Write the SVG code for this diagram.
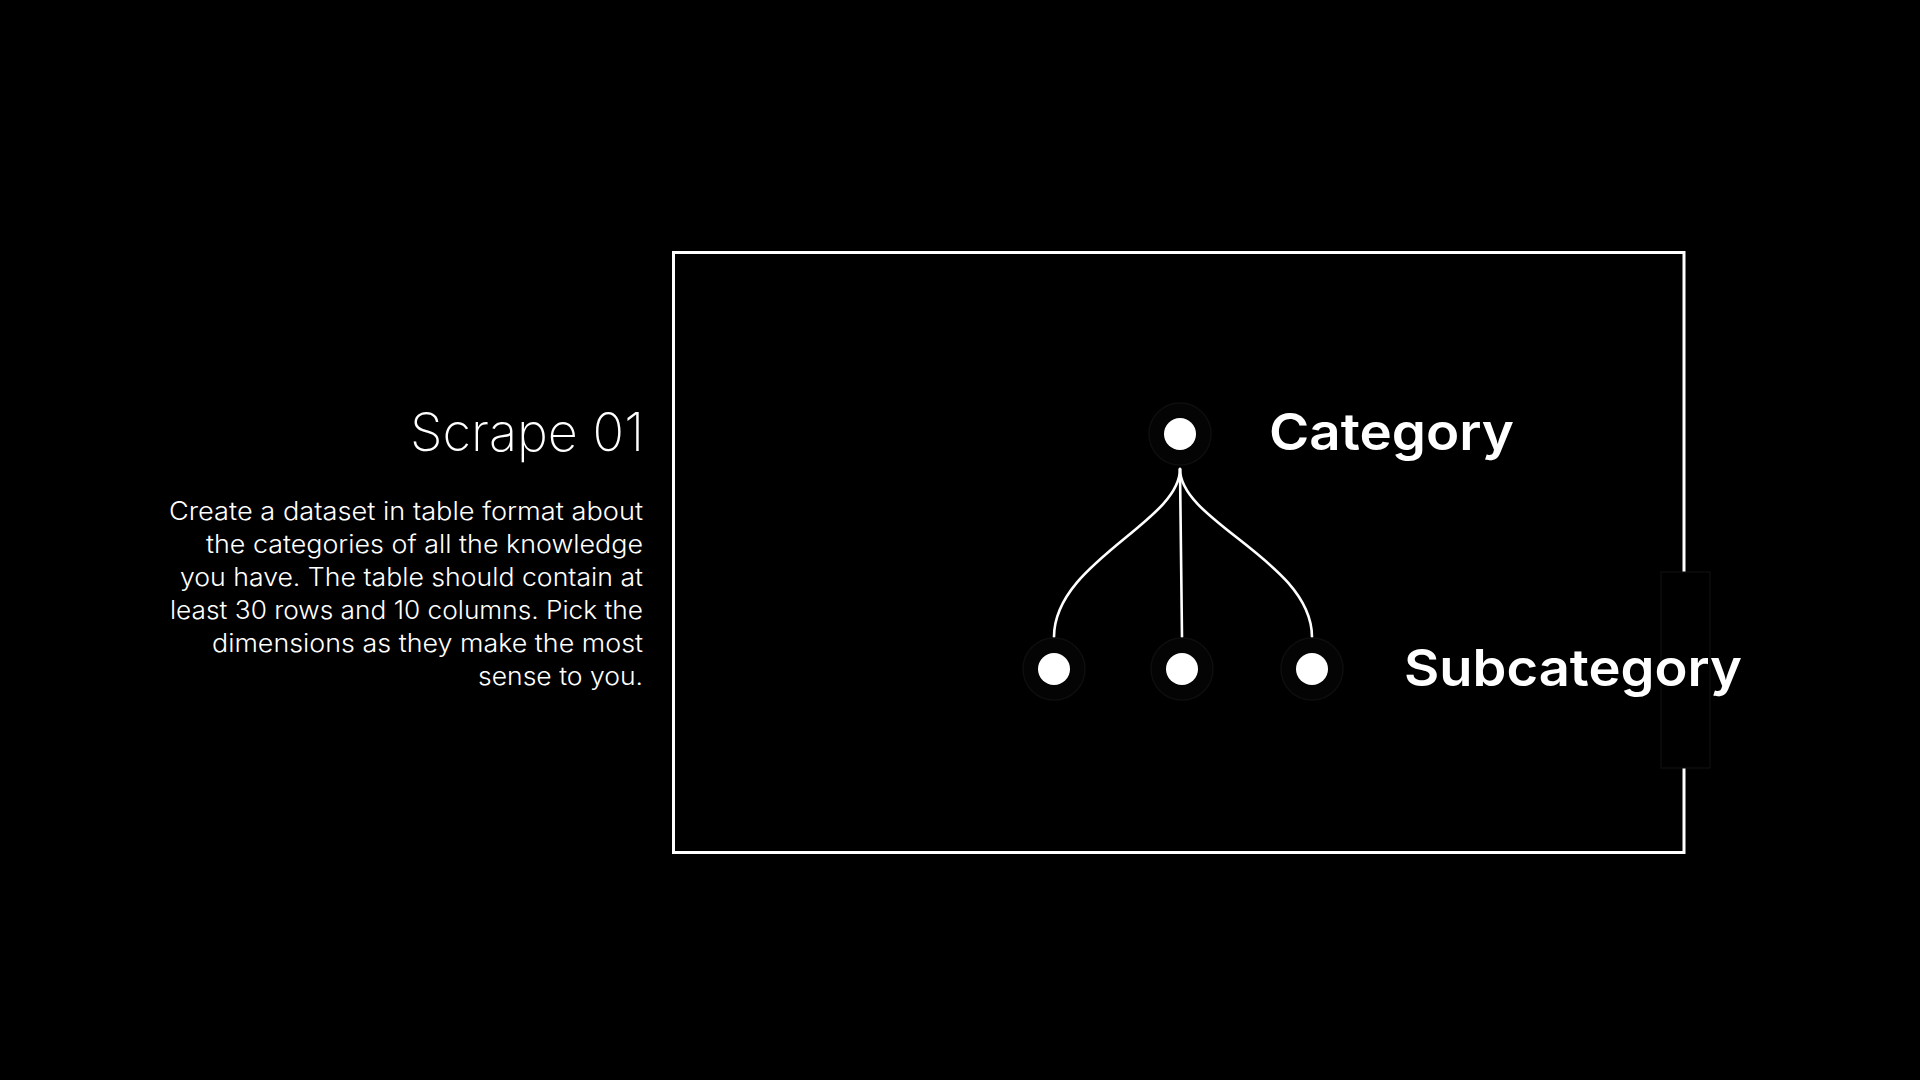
<svg xmlns="http://www.w3.org/2000/svg" width="1920" height="1080" viewBox="0 0 1920 1080">
<style>
.bg{fill:#000}
.frame{fill:none;stroke:#fff;stroke-width:3}
.ring{fill:#040404;stroke:#0e0e0e;stroke-width:1.5}
.dot{fill:#fff}
.edge{fill:none;stroke:#fff;stroke-width:2.6;stroke-linecap:round}
.label{font-family:Inter,"Noto Sans",sans-serif;font-weight:600;fill:#fff;font-size:51px}
.title{font-family:Inter,"Noto Sans",sans-serif;font-weight:200;fill:#fff;font-size:53px}
.body{font-family:Inter,"Noto Sans",sans-serif;font-weight:300;fill:#fff;font-size:25px}
</style>
<rect class="bg" x="0" y="0" width="1920" height="1080"/>
<g id="frame">
<rect class="frame" x="673.5" y="252.5" width="1010.5" height="600"/>
<rect x="1661" y="572" width="49" height="196" fill="#000" stroke="#121212" stroke-width="1"/>
</g>
<g id="description">
<text class="title" x="410" y="451" textLength="234" lengthAdjust="spacingAndGlyphs">Scrape 01</text>
<text class="body">
<tspan x="169" y="520" textLength="474" lengthAdjust="spacingAndGlyphs">Create a dataset in table format about</tspan>
<tspan x="206" y="553" textLength="437" lengthAdjust="spacingAndGlyphs">the categories of all the knowledge</tspan>
<tspan x="180" y="586" textLength="463" lengthAdjust="spacingAndGlyphs">you have. The table should contain at</tspan>
<tspan x="170" y="619" textLength="473" lengthAdjust="spacingAndGlyphs">least 30 rows and 10 columns. Pick the</tspan>
<tspan x="212" y="652" textLength="431" lengthAdjust="spacingAndGlyphs">dimensions as they make the most</tspan>
<tspan x="478" y="685" textLength="165" lengthAdjust="spacingAndGlyphs">sense to you.</tspan>
</text>
</g>
<g id="connectors">
<path class="edge" d="M1180,469 C1180,522 1054,562 1054,637"/>
<path class="edge" d="M1180,469 L1182,637"/>
<path class="edge" d="M1180,469 C1180,522 1312,562 1312,637"/>
</g>
<g id="node-category">
<circle class="ring" cx="1180" cy="434" r="31"/>
<circle class="dot" cx="1180" cy="434" r="16"/>
<text class="label" x="1269" y="450" textLength="245" lengthAdjust="spacingAndGlyphs">Category</text>
</g>
<g id="node-sub-1">
<circle class="ring" cx="1054" cy="669" r="31"/>
<circle class="dot" cx="1054" cy="669" r="16"/>
</g>
<g id="node-sub-2">
<circle class="ring" cx="1182" cy="669" r="31"/>
<circle class="dot" cx="1182" cy="669" r="16"/>
</g>
<g id="node-sub-3">
<circle class="ring" cx="1312" cy="669" r="31"/>
<circle class="dot" cx="1312" cy="669" r="16"/>
</g>
<g id="label-subcategory">
<text class="label" x="1404" y="686" textLength="338" lengthAdjust="spacingAndGlyphs">Subcategory</text>
</g>
</svg>
